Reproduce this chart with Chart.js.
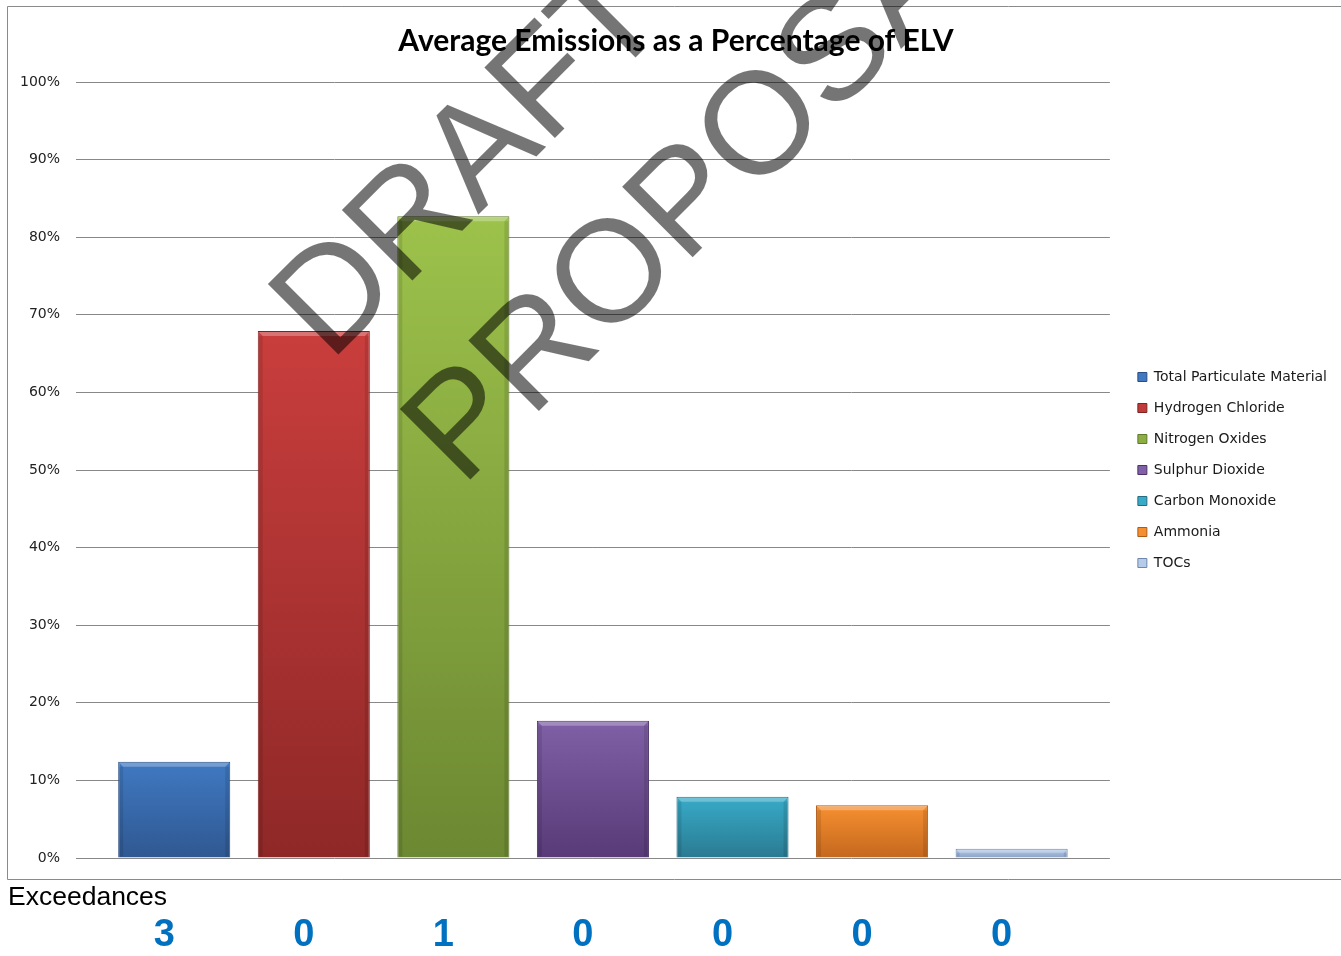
<!DOCTYPE html>
<html>
<head>
<meta charset="utf-8">
<title>Average Emissions as a Percentage of ELV</title>
<script src="https://cdn.jsdelivr.net/npm/chart.js@4.4.1/dist/chart.umd.min.js"></script>
<style>
    html, body { margin: 0; padding: 0; background: #ffffff; }
    #wrap { position: relative; width: 1341px; height: 956px; }
</style>
</head>
<body>
<div id="wrap"><canvas id="myChart" width="1341" height="956"></canvas></div>
<script>
// chart data
var categoryLabels = ['Emissions'];
var seriesNames = ['Total Particulate Material', 'Hydrogen Chloride', 'Nitrogen Oxides', 'Sulphur Dioxide', 'Carbon Monoxide', 'Ammonia', 'TOCs'];
var seriesValues = [12.4, 67.9, 82.7, 17.7, 7.9, 6.8, 1.2];
var exceedances = [3, 0, 1, 0, 0, 0, 0];
var yTickValues = [0, 10, 20, 30, 40, 50, 60, 70, 80, 90, 100];

// bar colours (top of gradient, bottom of gradient, edge)
var topColors = ['#4079c2', '#c93e3d', '#9dc24b', '#8060a6', '#38abc8', '#f68f30', '#b4cbea'];
var bottomColors = ['#2f5891', '#8e2827', '#6c8832', '#573a77', '#2a7a91', '#c4681e', '#8aa3c7'];
var edgeColors = ['#2a4f82', '#7e2322', '#5f7a2b', '#4c3268', '#246c80', '#ad5b19', '#6f87aa'];

document.addEventListener('DOMContentLoaded', function () {

    var datasets = seriesNames.map(function (name, i) {
        return {
            label: name,
            data: [seriesValues[i]],
            backgroundColor: function (c) {
                var chart = c.chart;
                if (c.type !== 'data' || !chart.chartArea) {
                    return topColors[i];
                }
                var y = chart.scales.y;
                var g = chart.ctx.createLinearGradient(0, y.getPixelForValue(c.raw), 0, y.getPixelForValue(0));
                g.addColorStop(0, topColors[i]);
                g.addColorStop(1, bottomColors[i]);
                return g;
            },
            borderColor: edgeColors[i],
            borderWidth: 1,
            categoryPercentage: 0.945,
            barPercentage: 0.803
        };
    });

    // white page + chart frame
    var framePlugin = {
        id: 'frame',
        beforeDraw: function (chart) {
            var ctx = chart.ctx;
            ctx.save();
            ctx.fillStyle = '#ffffff';
            ctx.fillRect(0, 0, chart.width, chart.height);
            ctx.strokeStyle = '#8a8a8a';
            ctx.lineWidth = 1;
            ctx.beginPath();
            ctx.moveTo(chart.width + 1, 6.5);
            ctx.lineTo(7.5, 6.5);
            ctx.lineTo(7.5, 879.5);
            ctx.lineTo(chart.width + 1, 879.5);
            ctx.stroke();
            ctx.restore();
        }
    };

    // bevel look on the bars
    var bevelPlugin = {
        id: 'bevel',
        afterDatasetsDraw: function (chart) {
            var ctx = chart.ctx;
            ctx.save();
            chart.data.datasets.forEach(function (ds, i) {
                chart.getDatasetMeta(i).data.forEach(function (bar) {
                    var left = bar.x - bar.width / 2;
                    var top = bar.y;
                    var h = bar.base - bar.y;
                    var e = Math.min(4, h / 3);
                    ctx.fillStyle = 'rgba(255,255,255,0.28)';
                    ctx.beginPath();
                    ctx.moveTo(left + 1, top + 1);
                    ctx.lineTo(left + bar.width - 1, top + 1);
                    ctx.lineTo(left + bar.width - 1 - e, top + 1 + e);
                    ctx.lineTo(left + 1 + e, top + 1 + e);
                    ctx.closePath();
                    ctx.fill();
                    ctx.fillStyle = 'rgba(0,0,0,0.10)';
                    ctx.fillRect(left + 1, top + 1 + e, e, h - 2 - e);
                    ctx.fillRect(left + bar.width - 1 - e, top + 1 + e, e, h - 2 - e);
                });
            });
            ctx.restore();
        }
    };

    // watermark, title and the exceedances row
    var overlayPlugin = {
        id: 'overlay',
        afterDraw: function (chart) {
            var ctx = chart.ctx;
            ctx.save();
            ctx.fillStyle = 'rgba(0,0,0,0.54)';
            ctx.font = '145px "Liberation Sans", Arial, sans-serif';
            ctx.textBaseline = 'alphabetic';
            ctx.textAlign = 'left';
            ctx.save();
            ctx.translate(330, 363);
            ctx.rotate(-Math.PI / 4);
            ctx.fillText('DRAFT', 0, 0);
            ctx.restore();
            ctx.save();
            ctx.translate(462, 488);
            ctx.rotate(-Math.PI / 4);
            ctx.fillText('PROPOSAL', 0, 0);
            ctx.restore();

            ctx.fillStyle = '#000000';
            ctx.font = 'bold 30px Lato, "Open Sans", sans-serif';
            ctx.textAlign = 'center';
            ctx.fillText('Average Emissions as a Percentage of ELV', 676, 51);

            ctx.textAlign = 'left';
            ctx.font = '26.5px "Liberation Sans", Arial, sans-serif';
            ctx.fillText('Exceedances', 8, 905);

            ctx.fillStyle = '#0070c0';
            ctx.font = 'bold 38px "Liberation Sans", Arial, sans-serif';
            ctx.textAlign = 'center';
            chart.data.datasets.forEach(function (ds, i) {
                var bar = chart.getDatasetMeta(i).data[0];
                ctx.fillText(String(exceedances[i]), bar.x - 10, 946);
            });
            ctx.restore();
        }
    };

    var ctx = document.getElementById('myChart').getContext('2d');
    var myChart = new Chart(ctx, {
        type: 'bar',
        data: {
            labels: categoryLabels,
            datasets: datasets
        },
        options: {
            responsive: false,
            animation: false,
            layout: {
                padding: { left: 0, right: 4, top: 82, bottom: 98 }
            },
            plugins: {
                title: { display: false },
                tooltip: { enabled: false },
                legend: {
                    position: 'right',
                    labels: {
                        font: { family: '"DejaVu Sans", Verdana, sans-serif', size: 14 },
                        color: '#1a1a1a',
                        boxWidth: 9,
                        boxHeight: 9,
                        padding: 17
                    }
                }
            },
            scales: {
                x: {
                    type: 'category',
                    display: false
                },
                y: {
                    min: 0,
                    max: 100,
                    afterBuildTicks: function (scale) {
                        scale.ticks = yTickValues.map(function (v) { return { value: v }; });
                    },
                    afterFit: function (scale) {
                        scale.width = 76;
                    },
                    ticks: {
                        padding: 16,
                        color: '#222222',
                        font: { family: '"DejaVu Sans", Verdana, sans-serif', size: 14 },
                        callback: function (v) { return v + '%'; }
                    },
                    grid: {
                        color: '#888888',
                        lineWidth: 1,
                        drawTicks: false
                    },
                    border: { display: false }
                },
                y2: {
                    type: 'linear',
                    position: 'right',
                    grid: { display: false },
                    ticks: { display: false },
                    border: { display: false },
                    afterFit: function (scale) {
                        scale.width = 11;
                    }
                }
            }
        },
        plugins: [framePlugin, bevelPlugin, overlayPlugin]
    });
});
</script>
</body>
</html>
